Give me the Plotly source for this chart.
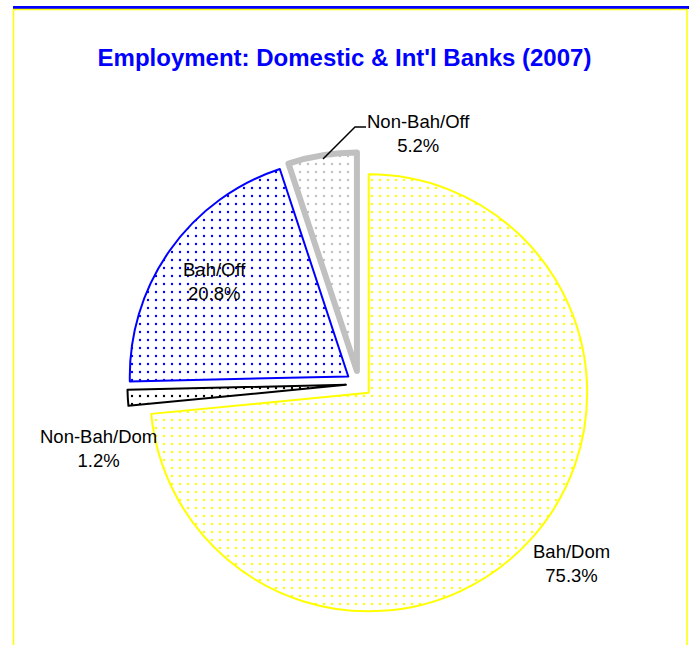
import plotly.graph_objects as go

# Employment shares by bank group, 2007
categories = ["Bah/Dom", "Non-Bah/Dom", "Bah/Off", "Non-Bah/Off"]
shares = [75.3, 1.2, 20.8, 5.2]

W, H = 689, 645


def px_x(x):
    return x / W


def px_y(y):
    return 1 - y / H


# Slice styling
dot_colors = ["#FFFF00", "#000000", "#0000FF", "#C0C0C0"]
edge_colors = ["#FFFF00", "#000000", "#0000FF", "#C0C0C0"]
edge_widths = [2, 2, 2, 6]
pulls = [0.06, 0.06, 0.06, 0.06]

# Pie placement (pixel centre and radius)
cx, cy, r = 359, 384, 218.5
half = r * (1 + max(pulls))

fig = go.Figure(
    go.Pie(
        labels=categories,
        values=shares,
        sort=False,
        direction="clockwise",
        rotation=0,
        pull=pulls,
        textinfo="none",
        hoverinfo="label+text",
        marker=dict(
            colors=["#FFFFFF"] * 4,
            line=dict(color=edge_colors, width=edge_widths),
            pattern=dict(
                shape=".",
                fgcolor=dot_colors,
                bgcolor="#FFFFFF",
                size=8,
                solidity=0.07,
                fillmode="replace",
            ),
        ),
        domain=dict(
            x=[px_x(cx - half), px_x(cx + half)],
            y=[px_y(cy + half), px_y(cy - half)],
        ),
        showlegend=False,
    )
)

# Slice labels: (x, y) pixel centres for each category's text block
label_pos = {
    "Bah/Dom": (571, 563),
    "Non-Bah/Dom": (98, 448),
    "Bah/Off": (214, 281),
    "Non-Bah/Off": (418, 133),
}
label_font = dict(family="Arial, Liberation Sans, sans-serif", size=18.5, color="#000000")

annotations = []
for name, val in zip(categories, shares):
    x, y = label_pos[name]
    annotations.append(
        dict(
            text=f"{name}<br>{val:.1f}%",
            x=px_x(x),
            y=px_y(y),
            xref="paper",
            yref="paper",
            xanchor="center",
            yanchor="middle",
            align="center",
            showarrow=False,
            font=label_font,
        )
    )

shapes = [
    # blue rule along the top
    dict(type="rect", xref="paper", yref="paper",
         x0=px_x(13), x1=1, y0=px_y(9), y1=px_y(6),
         fillcolor="#0000FF", line=dict(width=0), layer="below"),
    # yellow frame
    dict(type="path", xref="paper", yref="paper",
         path=(f"M {px_x(13.5)},0 L {px_x(13.5)},{px_y(9.5)} "
               f"L {px_x(687)},{px_y(9.5)} L {px_x(687)},0"),
         line=dict(color="#FFFF00", width=1.5), layer="below"),
    # leader line for the small offshore slice
    dict(type="path", xref="paper", yref="paper",
         path=(f"M {px_x(323)},{px_y(159)} L {px_x(355)},{px_y(127)} "
               f"L {px_x(366)},{px_y(127)}"),
         line=dict(color="#000000", width=1.5)),
]

fig.update_layout(
    width=W,
    height=H,
    margin=dict(l=0, r=0, t=0, b=0),
    paper_bgcolor="#FFFFFF",
    plot_bgcolor="#FFFFFF",
    title=dict(
        text="<b>Employment: Domestic & Int'l Banks (2007)</b>",
        font=dict(family="Arial, Liberation Sans, sans-serif", size=24, color="#0000FF"),
        x=0.5,
        xanchor="center",
        xref="paper",
        y=px_y(57.5),
        yref="container",
        yanchor="middle",
    ),
    annotations=annotations,
    shapes=shapes,
)

fig.write_html("out.html")
